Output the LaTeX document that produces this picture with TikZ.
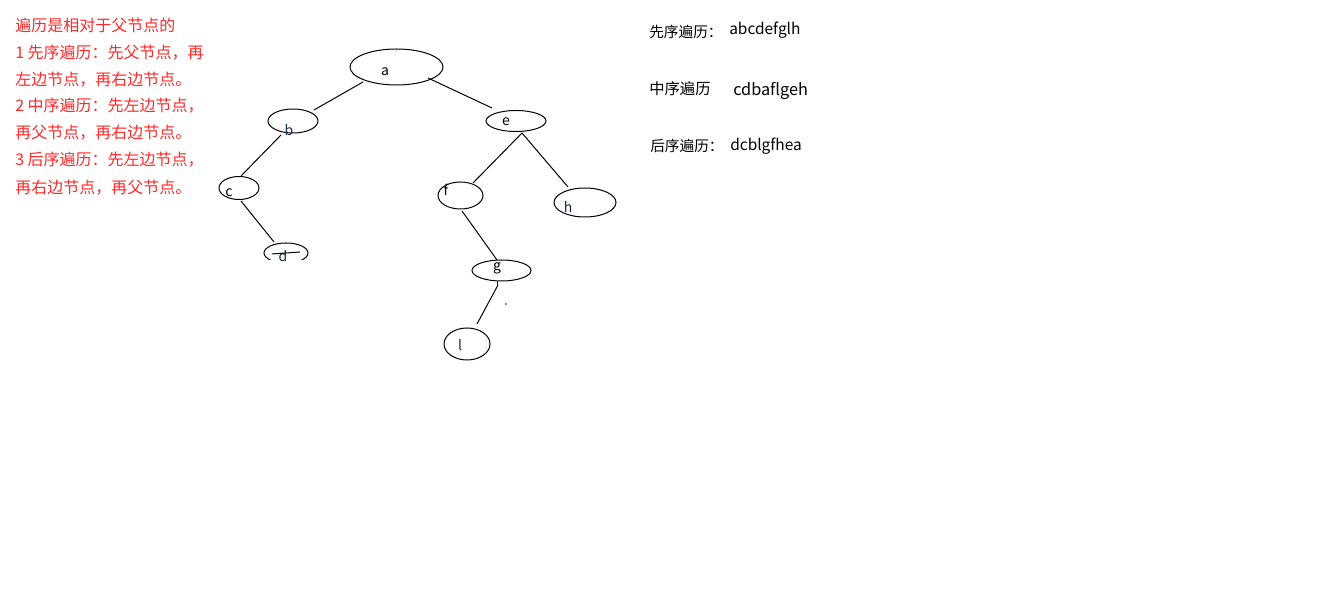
\documentclass[tikz,border=0pt]{standalone}
\usepackage{fontspec}
\setmainfont{Noto Sans CJK SC}
\definecolor{redtxt}{HTML}{FF2A2A}
\definecolor{lbl}{HTML}{1A2A4A}
\begin{document}
\begin{tikzpicture}[x=0.75pt,y=-0.75pt,
  nd/.style={line width=0.75pt},
  edge/.style={line width=0.75pt},
  lab/.style={font=\fontsize{10.5}{12}\selectfont,inner sep=0pt,text=lbl},
  red/.style={font=\fontsize{12}{14}\selectfont,text=redtxt,anchor=west,inner sep=0pt},
  rt/.style={font=\fontsize{11}{13}\selectfont,anchor=west,inner sep=0pt},
  lat/.style={font=\fontsize{11.6}{13}\selectfont,anchor=west,inner sep=0pt}]
\useasboundingbox (0,0) rectangle (1338,605);
\fill[white] (0,0) rectangle (1338,605);
% red notes
\node[red] (t0) at (15,25) {遍历是相对于父节点的};
\node[red] (t1) at (15,53) {1 先序遍历：先父节点，再};
\node[red] (t2) at (15,80) {左边节点，再右边节点。};
\node[red] (t3) at (15,106) {2 中序遍历：先左边节点，};
\node[red] (t4) at (15,133) {再父节点，再右边节点。};
\node[red] (t5) at (15,160) {3 后序遍历：先左边节点，};
\node[red] (t6) at (15,188) {再右边节点，再父节点。};
% right texts
\node[rt] (p1) at (649,32) {先序遍历：};
\node[lat] (p2) at (729,30) {abcdefglh};
\node[rt,font=\fontsize{11.5}{13}\selectfont] (m1) at (649,89) {中序遍历};
\node[lat,font=\fontsize{12.2}{14}\selectfont] (m2) at (733,91) {cdbaflgeh};
\node[rt] (q1) at (650,146) {后序遍历：};
\node[lat] (q2) at (730,146) {dcblgfhea};
% ellipses
\draw[nd] (396.5,67) ellipse [x radius=46.5, y radius=18];
\draw[nd] (293,121) ellipse [x radius=25, y radius=12];
\draw[nd] (516,121) ellipse [x radius=30, y radius=10.5];
\draw[nd] (239,188) ellipse [x radius=20, y radius=11.5];
\draw[nd] (460.5,195.5) ellipse [x radius=22.5, y radius=13.5];
\draw[nd] (585,202.5) ellipse [x radius=31, y radius=14.5];
\begin{scope}
\clip (250,238) rectangle (320,260);
\draw[nd] (286,253) ellipse [x radius=22, y radius=10];
\end{scope}
\draw[nd] (501.5,270.5) ellipse [x radius=29.5, y radius=10.5];
\draw[nd] (467,344) ellipse [x radius=23, y radius=16];
% labels
\node[lab,text=black] (a) at (385,72) {a};
\node[lab] (b) at (289,130) {b};
\node[lab,text=black] (e) at (506,122) {e};
\node[lab,text=black] (c) at (229,193) {c};
\node[lab,text=black] (f) at (446,190) {f};
\node[lab] (h) at (568,207) {h};
\node[lab] (d) at (283,256) {d};
\node[lab,text=black] (g) at (497,268) {g};
\node[lab] (l) at (460,345) {l};
% small marks
\coordinate (d1) at (272,254); \coordinate (d2) at (300,252);
\draw[edge] (d1) -- (d2);
\coordinate (gm1) at (497,281); \coordinate (gm2) at (497,285);
\draw[edge] (gm1) -- (gm2);
\fill (506,304) circle (0.8);
% edges
\coordinate (ab1) at (363,82); \coordinate (ab2) at (314,110);
\coordinate (ae1) at (428,78); \coordinate (ae2) at (492,108);
\coordinate (bc1) at (281,135); \coordinate (bc2) at (241,176);
\coordinate (cd1) at (241,201); \coordinate (cd2) at (274,242);
\coordinate (ef1) at (522,133); \coordinate (ef2) at (473,183);
\coordinate (eh2) at (568,187);
\coordinate (fg1) at (462,211); \coordinate (fg2) at (497,260);
\coordinate (gl1) at (498,285); \coordinate (gl2) at (477,324);
\draw[edge] (ab1) -- (ab2);
\draw[edge] (ae1) -- (ae2);
\draw[edge] (bc1) -- (bc2);
\draw[edge] (cd1) -- (cd2);
\draw[edge] (ef1) -- (ef2);
\draw[edge] (ef1) -- (eh2);
\draw[edge] (fg1) -- (fg2);
\draw[edge] (gl1) -- (gl2);
\end{tikzpicture}
\end{document}
